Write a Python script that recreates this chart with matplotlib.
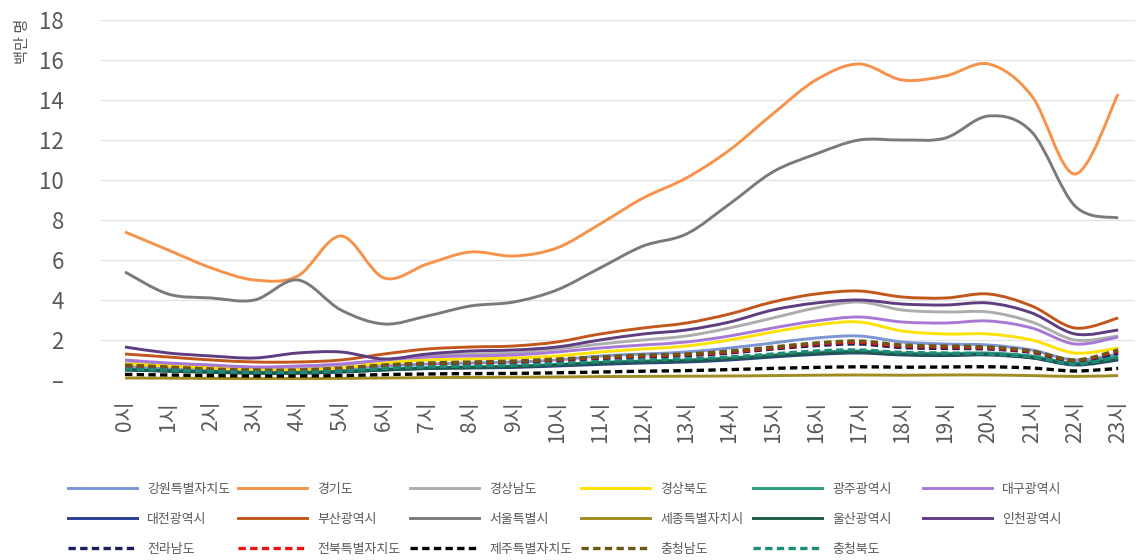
import matplotlib
matplotlib.use('Agg')
import matplotlib.pyplot as plt
import numpy as np
from matplotlib.path import Path
from matplotlib.patches import PathPatch
from matplotlib.lines import Line2D

plt.rcParams['font.family'] = ['Noto Sans CJK KR', 'DejaVu Sans']
plt.rcParams['axes.unicode_minus'] = False

# 시간대별 지역 인구 (백만 명)
hours = [f'{h}시' for h in range(24)]

gangwon = [0.70, 0.60, 0.50, 0.45, 0.45, 0.55, 0.70, 0.80, 0.85, 0.90, 1.00, 1.20,
           1.30, 1.40, 1.60, 1.85, 2.10, 2.20, 1.90, 1.80, 1.75, 1.50, 1.00, 1.30]
gyeonggi = [7.4, 6.5, 5.6, 5.0, 5.2, 7.2, 5.1, 5.8, 6.4, 6.2, 6.6, 7.8,
            9.1, 10.1, 11.5, 13.3, 15.0, 15.8, 15.0, 15.2, 15.8, 14.2, 10.3, 14.3]
gyeongnam = [0.95, 0.80, 0.70, 0.60, 0.60, 0.75, 1.00, 1.20, 1.30, 1.35, 1.55, 1.80,
             2.00, 2.20, 2.60, 3.10, 3.60, 3.90, 3.50, 3.40, 3.40, 2.90, 2.00, 2.20]
gyeongbuk = [0.80, 0.70, 0.60, 0.50, 0.50, 0.60, 0.85, 1.00, 1.05, 1.10, 1.20, 1.40,
             1.55, 1.70, 2.00, 2.40, 2.75, 2.90, 2.45, 2.30, 2.30, 2.00, 1.35, 1.60]
gwangju = [0.55, 0.48, 0.42, 0.38, 0.38, 0.44, 0.55, 0.62, 0.66, 0.70, 0.78, 0.88,
           0.95, 1.00, 1.10, 1.25, 1.38, 1.45, 1.35, 1.32, 1.35, 1.20, 0.85, 1.20]
daegu = [1.00, 0.85, 0.75, 0.65, 0.70, 0.80, 1.00, 1.15, 1.20, 1.25, 1.40, 1.60,
         1.75, 1.90, 2.20, 2.60, 2.95, 3.15, 2.90, 2.85, 2.95, 2.60, 1.80, 2.15]
daejeon = [0.50, 0.45, 0.40, 0.35, 0.35, 0.40, 0.50, 0.57, 0.60, 0.63, 0.70, 0.78,
           0.85, 0.90, 1.00, 1.15, 1.28, 1.35, 1.25, 1.22, 1.25, 1.10, 0.75, 1.00]
busan = [1.30, 1.15, 1.00, 0.90, 0.90, 1.00, 1.30, 1.55, 1.65, 1.70, 1.90, 2.30,
         2.60, 2.85, 3.30, 3.90, 4.30, 4.45, 4.15, 4.10, 4.30, 3.70, 2.60, 3.10]
seoul = [5.4, 4.3, 4.1, 4.0, 5.0, 3.5, 2.8, 3.2, 3.7, 3.9, 4.5, 5.6,
         6.7, 7.3, 8.8, 10.4, 11.3, 12.0, 12.0, 12.1, 13.2, 12.4, 8.7, 8.1]
sejong = [0.10, 0.09, 0.08, 0.07, 0.07, 0.08, 0.10, 0.12, 0.13, 0.14, 0.15, 0.17,
          0.18, 0.19, 0.20, 0.22, 0.24, 0.25, 0.24, 0.25, 0.25, 0.22, 0.18, 0.22]
ulsan = [0.50, 0.44, 0.38, 0.34, 0.34, 0.40, 0.50, 0.58, 0.62, 0.66, 0.74, 0.84,
         0.90, 0.95, 1.05, 1.20, 1.32, 1.38, 1.28, 1.25, 1.28, 1.12, 0.78, 1.05]
incheon = [1.65, 1.35, 1.20, 1.10, 1.35, 1.40, 1.05, 1.30, 1.45, 1.50, 1.65, 2.00,
           2.30, 2.50, 2.90, 3.50, 3.85, 4.00, 3.80, 3.75, 3.85, 3.35, 2.30, 2.50]
jeonnam = [0.65, 0.57, 0.50, 0.45, 0.45, 0.53, 0.68, 0.78, 0.82, 0.87, 0.97, 1.07,
           1.15, 1.22, 1.35, 1.55, 1.72, 1.80, 1.62, 1.58, 1.55, 1.38, 0.95, 1.35]
jeonbuk = [0.70, 0.62, 0.53, 0.48, 0.48, 0.57, 0.72, 0.82, 0.87, 0.92, 1.02, 1.12,
           1.20, 1.27, 1.40, 1.60, 1.80, 1.88, 1.70, 1.65, 1.60, 1.42, 0.98, 1.45]
jeju = [0.28, 0.25, 0.22, 0.20, 0.20, 0.22, 0.27, 0.30, 0.32, 0.33, 0.36, 0.40,
        0.44, 0.47, 0.52, 0.58, 0.63, 0.66, 0.64, 0.65, 0.66, 0.60, 0.45, 0.58]
chungnam = [0.75, 0.65, 0.55, 0.50, 0.50, 0.60, 0.75, 0.85, 0.90, 0.95, 1.05, 1.15,
            1.25, 1.30, 1.45, 1.65, 1.85, 1.95, 1.75, 1.70, 1.65, 1.45, 1.00, 1.50]
chungbuk = [0.55, 0.50, 0.43, 0.38, 0.38, 0.45, 0.58, 0.66, 0.70, 0.74, 0.82, 0.92,
            1.00, 1.05, 1.15, 1.30, 1.45, 1.50, 1.38, 1.35, 1.30, 1.15, 0.80, 1.15]

series = [
    ('강원특별자치도', gangwon, '#7B96D4', '-'),
    ('경기도', gyeonggi, '#F7924A', '-'),
    ('경상남도', gyeongnam, '#ADADAD', '-'),
    ('경상북도', gyeongbuk, '#FFE100', '-'),
    ('광주광역시', gwangju, '#2E9A7E', '-'),
    ('대구광역시', daegu, '#A878D6', '-'),
    ('대전광역시', daejeon, '#283E90', '-'),
    ('부산광역시', busan, '#C2571C', '-'),
    ('서울특별시', seoul, '#7A7A7A', '-'),
    ('세종특별자치시', sejong, '#A08C22', '-'),
    ('울산광역시', ulsan, '#1F5B4B', '-'),
    ('인천광역시', incheon, '#5E3D80', '-'),
    ('전라남도', jeonnam, '#1B1D5C', '--'),
    ('전북특별자치도', jeonbuk, '#E81414', '--'),
    ('제주특별자치도', jeju, '#000000', '--'),
    ('충청남도', chungnam, '#6E5614', '--'),
    ('충청북도', chungbuk, '#1E8C78', '--'),
]


def smooth_path(x, y):
    # 점들을 지나는 부드러운 베지어 곡선 경로
    x = np.asarray(x, float)
    y = np.asarray(y, float)
    pts = np.column_stack([x, y])
    n = len(pts)
    verts = [pts[0]]
    codes = [Path.MOVETO]
    for i in range(n - 1):
        p0 = pts[i - 1] if i > 0 else pts[i]
        p1 = pts[i]
        p2 = pts[i + 1]
        p3 = pts[i + 2] if i + 2 < n else pts[i + 1]
        c1 = p1 + (p2 - p0) / 6.0
        c2 = p2 - (p3 - p1) / 6.0
        verts += [c1, c2, p2]
        codes += [Path.CURVE4] * 3
    return Path(verts, codes)


fig = plt.figure(figsize=(11.38, 5.6), dpi=100)
ax = fig.add_axes([100 / 1138, 1 - 380 / 560, 1035 / 1138, 360 / 560])

x = np.arange(len(hours))
handles = []
for name, vals, color, ls in series:
    lw = 2.1 if ls == '-' else 2.4
    dashes = (0, (2.2, 1.3)) if ls == '--' else 'solid'
    patch = PathPatch(smooth_path(x, vals), fill=False, edgecolor=color,
                      lw=lw, linestyle=dashes, capstyle='butt')
    ax.add_patch(patch)
    handles.append(Line2D([], [], color=color, lw=lw, linestyle=dashes, label=name))

ax.set_xlim(-0.58, 23.39)
ax.set_ylim(0, 18)
ax.set_xticks(x)
ax.set_xticklabels(hours, rotation=90, fontsize=15, color='#595959')
yt = np.arange(0, 19, 2)
ax.set_yticks(yt)
ax.set_yticklabels(['–'] + [str(v) for v in yt[1:]], fontsize=16, color='#595959')
ax.tick_params(length=0)
ax.tick_params(axis='y', pad=26)
ax.tick_params(axis='x', pad=15)
ax.grid(axis='y', color='#E3E3E3', lw=0.9)
ax.set_axisbelow(True)
for s in ax.spines.values():
    s.set_visible(False)

ax.set_ylabel('백만 명', fontsize=11, color='#595959')
ax.yaxis.set_label_coords(-0.067, 0.94)

# 범례: 6열 3행, 각 열을 고정 위치에 배치
col_x = [68, 238, 410, 581, 753, 923]
ncol = 6
for j in range(ncol):
    col_handles = handles[j::ncol]
    fig.legend(handles=col_handles, loc='upper left',
               bbox_to_anchor=(col_x[j] / 1138, 1 - 483 / 560),
               frameon=False, fontsize=9.3, handlelength=5.35, handletextpad=0.78,
               labelspacing=1.3, borderpad=0, borderaxespad=0,
               labelcolor='#595959')

fig.savefig('out.png', dpi=100)
